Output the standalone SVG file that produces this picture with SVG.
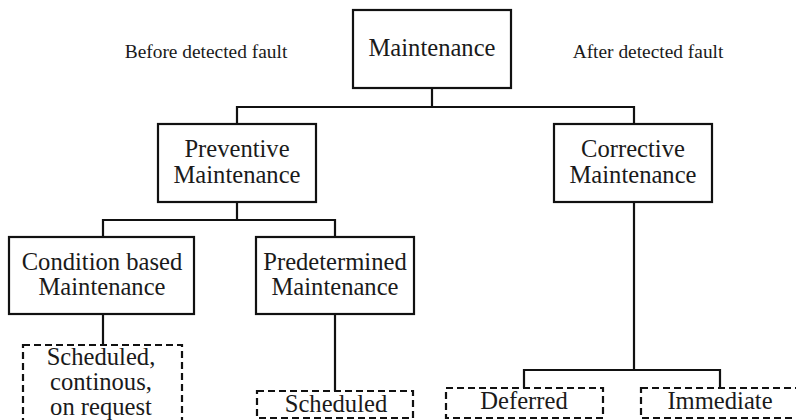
<svg xmlns="http://www.w3.org/2000/svg" width="796" height="420" viewBox="0 0 796 420">
<style>
.box{fill:#fff;stroke:#111;stroke-width:2.2}
.dash{fill:#fff;stroke:#111;stroke-width:2.2;stroke-dasharray:7 4}
.t{font-family:"Liberation Serif","Times New Roman",serif;font-size:24.6px;fill:#1a1a1a;text-anchor:middle}
.s{font-family:"Liberation Serif","Times New Roman",serif;font-size:19.4px;fill:#1a1a1a;text-anchor:middle}
.c{fill:none;stroke:#111;stroke-width:2.2}
</style>
<rect width="796" height="420" fill="#fff"/>
<text class="s" x="206" y="58">Before detected fault</text>
<text class="s" x="648" y="58">After detected fault</text>
<g id="connectors">
<path class="c" d="M432,88V107M237,124V107H634V124"/>
<path class="c" d="M237,202V220M103,237V220H335V237"/>
<path class="c" d="M103,314V345"/>
<path class="c" d="M335,314V391"/>
<path class="c" d="M634,202V370M524,388V370H720V388"/>
</g>
<g id="maintenance"><rect class="box" x="353" y="10" width="158" height="78"/><text class="t" x="432" y="56">Maintenance</text></g>
<g id="preventive"><rect class="box" x="158" y="124" width="158" height="78"/><text class="t" x="237" y="157">Preventive</text><text class="t" x="237" y="183">Maintenance</text></g>
<g id="corrective"><rect class="box" x="554" y="124" width="158" height="78"/><text class="t" x="633" y="157">Corrective</text><text class="t" x="633" y="183">Maintenance</text></g>
<g id="condition"><rect class="box" x="9" y="237" width="185" height="77"/><text class="t" x="102" y="270">Condition based</text><text class="t" x="102" y="295">Maintenance</text></g>
<g id="predetermined"><rect class="box" x="256" y="237" width="158" height="77"/><text class="t" x="335" y="270">Predetermined</text><text class="t" x="335" y="295">Maintenance</text></g>
<g id="sched-cont"><rect class="dash" x="23" y="345" width="159" height="90"/><text class="t" x="101" y="365">Scheduled,</text><text class="t" x="101" y="390">continous,</text><text class="t" x="101" y="415">on request</text></g>
<g id="scheduled"><rect class="dash" x="257" y="391" width="156" height="27"/><text class="t" x="336" y="412">Scheduled</text></g>
<g id="deferred"><rect class="dash" x="446" y="388" width="157" height="30"/><text class="t" x="524" y="409">Deferred</text></g>
<g id="immediate"><rect class="dash" x="641" y="388" width="165" height="30"/><text class="t" x="720" y="409">Immediate</text></g>
</svg>
